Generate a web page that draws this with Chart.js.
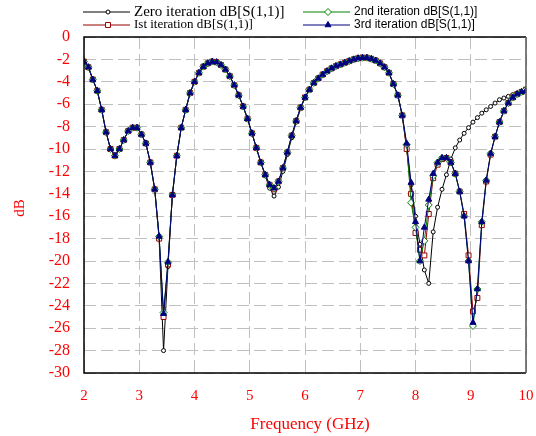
<!DOCTYPE html>
<html>
<head>
<meta charset="utf-8">
<script src="https://cdn.jsdelivr.net/npm/chart.js@4/dist/chart.umd.min.js"></script>
<style>
  body { margin: 0; background: #fff; }
  #wrap { width: 536px; height: 436px; position: relative; }
</style>
</head>
<body>
<div id="wrap"><canvas id="myChart" width="536" height="436"></canvas></div>
<script>
// frequency points (GHz)
const freq = [2.00, 2.08, 2.16, 2.24, 2.32, 2.40, 2.48, 2.56, 2.64, 2.72, 2.80, 2.88, 2.96, 3.04, 3.12, 3.20, 3.28, 3.36, 3.44, 3.52,
  3.60, 3.68, 3.76, 3.84, 3.92, 4.00, 4.08, 4.16, 4.24, 4.32, 4.40, 4.48, 4.56, 4.64, 4.72, 4.80, 4.88, 4.96, 5.04, 5.12,
  5.20, 5.28, 5.36, 5.44, 5.52, 5.60, 5.68, 5.76, 5.84, 5.92, 6.00, 6.08, 6.16, 6.24, 6.32, 6.40, 6.48, 6.56, 6.64, 6.72,
  6.80, 6.88, 6.96, 7.04, 7.12, 7.20, 7.28, 7.36, 7.44, 7.52, 7.60, 7.68, 7.76, 7.84, 7.92, 8.00, 8.08, 8.16, 8.24, 8.32,
  8.40, 8.48, 8.56, 8.64, 8.72, 8.80, 8.88, 8.96, 9.04, 9.12, 9.20, 9.28, 9.36, 9.44, 9.52, 9.60, 9.68, 9.76, 9.84, 9.92, 10.00];

// dB[S(1,1)] for each iteration
const zeroIter = [-2.2, -2.7, -3.8, -4.8, -6.5, -8.5, -10.0, -10.6, -10.0, -9.2, -8.4, -8.1, -8.1, -8.7, -9.5, -11.2, -13.6, -18.0, -28.0, -20.5,
  -14.1, -10.6, -8.1, -6.5, -5.0, -4.0, -3.2, -2.65, -2.35, -2.2, -2.25, -2.5, -2.9, -3.5, -4.3, -5.2, -6.2, -7.3, -8.6, -9.9,
  -11.2, -12.4, -13.5, -14.2, -13.4, -12.0, -10.5, -9.0, -7.6, -6.4, -5.4, -4.7, -4.1, -3.7, -3.35, -3.05, -2.8, -2.6, -2.45, -2.3,
  -2.15, -2.0, -1.9, -1.85, -1.85, -1.95, -2.1, -2.35, -2.7, -3.2, -4.2, -5.2, -7.0, -10.0, -13.2, -16.0, -18.5, -20.8, -22.0, -17.4,
  -15.2, -13.6, -12.3, -10.9, -9.9, -9.2, -8.6, -8.1, -7.6, -7.2, -6.8, -6.5, -6.2, -5.9, -5.6, -5.45, -5.3, -5.15, -5.0, -4.85, -4.7];
const firstIter = [-2.2, -2.7, -3.8, -4.8, -6.5, -8.5, -10.0, -10.6, -10.0, -9.2, -8.4, -8.1, -8.1, -8.7, -9.5, -11.2, -13.6, -18.0, -25.0, -20.3,
  -14.1, -10.6, -8.1, -6.5, -5.0, -4.0, -3.2, -2.65, -2.35, -2.2, -2.25, -2.5, -2.9, -3.5, -4.3, -5.2, -6.2, -7.3, -8.6, -9.9,
  -11.2, -12.3, -13.2, -13.6, -12.9, -11.7, -10.3, -8.8, -7.5, -6.3, -5.4, -4.7, -4.1, -3.7, -3.35, -3.05, -2.8, -2.6, -2.45, -2.3,
  -2.15, -2.0, -1.9, -1.85, -1.85, -1.95, -2.1, -2.35, -2.7, -3.2, -4.2, -5.2, -7.0, -10.0, -14.0, -17.5, -19.0, -19.5, -15.8, -12.6,
  -11.4, -10.9, -10.8, -11.2, -12.2, -13.8, -15.8, -19.5, -24.5, -23.3, -16.8, -12.9, -10.5, -8.9, -7.6, -6.6, -5.9, -5.4, -5.1, -4.9, -4.7];
const secondIter = [-2.2, -2.7, -3.8, -4.8, -6.5, -8.5, -10.0, -10.6, -10.0, -9.2, -8.4, -8.1, -8.1, -8.7, -9.5, -11.2, -13.6, -17.8, -24.6, -20.1,
  -14.1, -10.6, -8.1, -6.5, -5.0, -4.0, -3.2, -2.65, -2.35, -2.2, -2.25, -2.5, -2.9, -3.5, -4.3, -5.2, -6.2, -7.3, -8.6, -9.9,
  -11.2, -12.3, -13.2, -13.5, -12.9, -11.7, -10.3, -8.8, -7.5, -6.3, -5.4, -4.7, -4.1, -3.7, -3.35, -3.05, -2.8, -2.6, -2.45, -2.3,
  -2.15, -2.0, -1.9, -1.85, -1.85, -1.95, -2.1, -2.35, -2.7, -3.2, -4.2, -5.2, -7.0, -9.6, -14.8, -17.0, -20.0, -18.2, -15.0, -12.4,
  -11.2, -10.8, -10.8, -11.2, -12.2, -13.8, -16.0, -20.0, -25.8, -22.5, -16.5, -12.8, -10.4, -8.9, -7.6, -6.6, -5.9, -5.4, -5.1, -4.9, -4.7];
const thirdIter = [-2.2, -2.7, -3.8, -4.8, -6.5, -8.5, -10.0, -10.6, -10.0, -9.2, -8.4, -8.1, -8.1, -8.7, -9.5, -11.2, -13.6, -17.8, -24.7, -20.1,
  -14.1, -10.6, -8.1, -6.5, -5.0, -4.0, -3.2, -2.65, -2.35, -2.2, -2.25, -2.5, -2.9, -3.5, -4.3, -5.2, -6.2, -7.3, -8.6, -9.9,
  -11.2, -12.3, -13.2, -13.5, -12.9, -11.7, -10.3, -8.8, -7.5, -6.3, -5.4, -4.7, -4.1, -3.7, -3.35, -3.05, -2.8, -2.6, -2.45, -2.3,
  -2.15, -2.0, -1.9, -1.85, -1.85, -1.95, -2.1, -2.35, -2.7, -3.2, -4.2, -5.2, -7.0, -9.5, -13.0, -16.5, -20.0, -17.0, -14.5, -12.2,
  -11.2, -10.8, -10.8, -11.2, -12.2, -13.8, -16.0, -20.0, -25.5, -22.5, -16.5, -12.8, -10.4, -8.9, -7.6, -6.6, -5.9, -5.4, -5.1, -4.9, -4.8];

const seriesNames = ["Zero iteration dB[S(1,1)]", "Ist iteration dB[S(1,1)]", "2nd iteration dB[S(1,1)]", "3rd iteration dB[S(1,1)]"];
const xTicks = [2, 3, 4, 5, 6, 7, 8, 9, 10];
const yTicks = [0, -2, -4, -6, -8, -10, -12, -14, -16, -18, -20, -22, -24, -26, -28, -30];

const RED = "#ff0000";
const toXY = arr => arr.map((v, i) => ({ x: freq[i], y: v }));

// legend + frame + axis titles
const decor = {
  id: "decor",
  afterDraw(chart) {
    const c = chart.ctx, a = chart.chartArea;
    c.save();
    // frame
    c.strokeStyle = "#000";
    c.lineWidth = 1.5;
    c.beginPath();
    c.moveTo(a.right, a.top); c.lineTo(a.left, a.top); c.lineTo(a.left, a.bottom); c.lineTo(a.right, a.bottom);
    c.stroke();
    c.strokeStyle = "#555";
    c.beginPath(); c.moveTo(a.right, a.top); c.lineTo(a.right, a.bottom); c.stroke();

    // titles
    c.fillStyle = RED;
    c.textAlign = "center";
    c.textBaseline = "middle";
    c.font = "17px 'Liberation Serif'";
    c.fillText("Frequency (GHz)", 310, 425);
    c.save();
    c.translate(20, 208);
    c.rotate(-Math.PI / 2);
    c.font = "15px 'Liberation Serif'";
    c.fillText("dB", 0, 0);
    c.restore();

    // legend
    const items = [
      { x: 83, y: 12, col: "#000", font: "15px 'Liberation Serif'" },
      { x: 83, y: 25, col: "#990000", font: "13px 'Liberation Serif'" },
      { x: 303, y: 12, col: "#008000", font: "12px 'Liberation Sans'" },
      { x: 303, y: 25, col: "#000080", font: "12px 'Liberation Sans'" }
    ];
    items.forEach((it, i) => {
      const ds = chart.data.datasets.find(d => d.label === seriesNames[i]);
      c.strokeStyle = it.col;
      c.lineWidth = 1;
      c.beginPath(); c.moveTo(it.x, it.y); c.lineTo(it.x + 47, it.y); c.stroke();
      c.fillStyle = ds.pointBackgroundColor;
      c.strokeStyle = ds.pointBorderColor;
      Chart.helpers.drawPoint(c, { pointStyle: ds.pointStyle, radius: ds.pointRadius, borderWidth: 1 }, it.x + 25, it.y);
      c.fillStyle = "#000";
      c.textAlign = "left";
      c.font = it.font;
      c.fillText(seriesNames[i], it.x + 51, it.y);
    });
    c.restore();
  }
};

new Chart(document.getElementById("myChart"), {
  type: "line",
  data: {
    datasets: [
      { label: seriesNames[3], data: toXY(thirdIter), borderColor: "#000080", borderWidth: 1,
        pointStyle: "triangle", pointRadius: 3.5, pointBackgroundColor: "#000080", pointBorderColor: "#000080" },
      { label: seriesNames[2], data: toXY(secondIter), borderColor: "#008000", borderWidth: 1,
        pointStyle: "rectRot", pointRadius: 3.5, pointBackgroundColor: "#ffffff", pointBorderColor: "#008000" },
      { label: seriesNames[1], data: toXY(firstIter), borderColor: "#990000", borderWidth: 1,
        pointStyle: "rect", pointRadius: 3.5, pointBackgroundColor: "#ffffff", pointBorderColor: "#990000" },
      { label: seriesNames[0], data: toXY(zeroIter), borderColor: "#000000", borderWidth: 1,
        pointStyle: "circle", pointRadius: 2, pointBackgroundColor: "#ffffff", pointBorderColor: "#000000" }
    ]
  },
  plugins: [decor],
  options: {
    responsive: false,
    animation: false,
    layout: { padding: { top: 37, right: 10, left: 0, bottom: 0 } },
    plugins: { legend: { display: false }, tooltip: { enabled: false } },
    elements: { line: { tension: 0 } },
    scales: {
      x: {
        type: "linear", min: 2, max: 10,
        afterBuildTicks: s => { s.ticks = xTicks.map(v => ({ value: v })); },
        afterFit: s => { s.height = 63; s.paddingLeft = 0; s.paddingRight = 0; },
        ticks: { color: RED, padding: 14, font: { family: "Liberation Serif", size: 15 } },
        grid: { color: "#c0c0c0", drawTicks: false },
        border: { display: false, dash: [12, 5] }
      },
      y: {
        min: -30, max: 0,
        afterBuildTicks: s => { s.ticks = yTicks.map(v => ({ value: v })); },
        afterFit: s => { s.width = 84; s.paddingTop = 0; s.paddingBottom = 0; },
        ticks: { color: RED, padding: 14, font: { family: "Liberation Serif", size: 16 } },
        grid: { color: "#c0c0c0", drawTicks: false },
        border: { display: false, dash: [12, 5] }
      }
    }
  }
});
</script>
</body>
</html>
